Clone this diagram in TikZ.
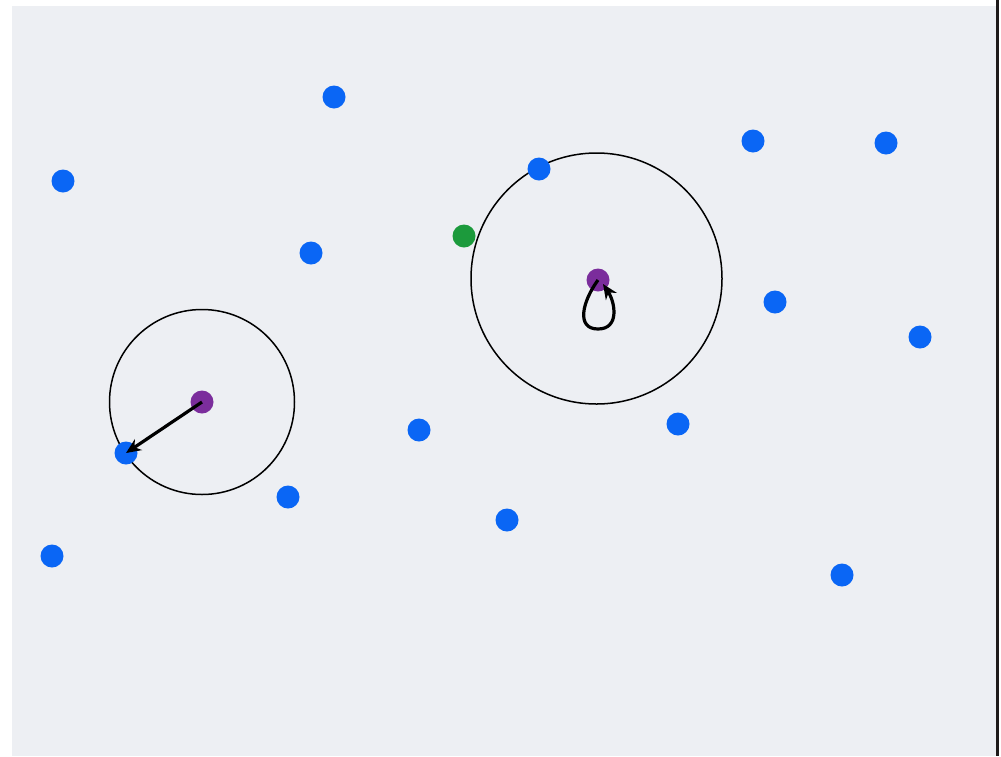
\documentclass[tikz,border=0pt]{standalone}
\usetikzlibrary{arrows.meta}
\definecolor{bg}{HTML}{EDEFF3}
\definecolor{dotblue}{HTML}{0A66F5}
\definecolor{dotpurple}{HTML}{7B2D9C}
\definecolor{dotgreen}{HTML}{1C9A3C}
\definecolor{edge}{HTML}{1E1A1A}
\tikzset{
  dot/.style={circle,inner sep=0pt,minimum size=23pt,draw=none},
  bdot/.style={dot,fill=dotblue},
  pdot/.style={dot,fill=dotpurple},
  gdot/.style={dot,fill=dotgreen},
  ring/.style={draw=black,line width=1.5pt},
  link/.style={draw=black,line width=3.2pt,-{Stealth[length=15pt,width=13pt]}}
}
\begin{document}
\begin{tikzpicture}[x=1pt,y=-1pt]
\useasboundingbox (0,0) rectangle (1001,756);
\fill[white] (0,0) rectangle (1001,756);
\fill[bg] (12,6) rectangle (996,756);
\fill[edge] (996,0) rectangle (999,756);
% circles
\draw[ring] (202,402) circle[radius=92.5];
\draw[ring] (596.5,278.5) circle[radius=125.5];
% blue dots
\node[bdot] (b1) at (334,97) {};
\node[bdot] (b2) at (63,181) {};
\node[bdot] (b3) at (539,169) {};
\node[bdot] (b4) at (753,141) {};
\node[bdot] (b5) at (886,143) {};
\node[bdot] (b6) at (311,253) {};
\node[bdot] (b7) at (775,302) {};
\node[bdot] (b8) at (920,337) {};
\node[bdot] (b9) at (419,430) {};
\node[bdot] (b10) at (678,424) {};
\node[bdot] (b11) at (126,453) {};
\node[bdot] (b12) at (288,497) {};
\node[bdot] (b13) at (507,520) {};
\node[bdot] (b14) at (52,556) {};
\node[bdot] (b15) at (842,575) {};
% green
\node[gdot] (g1) at (464,236) {};
% purple
\node[pdot] (p1) at (202,402) {};
\node[pdot] (p2) at (598,280) {};
% connectors
\draw[link] (p1.center) -- (b11.center);
\coordinate (lb) at (598,329);
\coordinate (lt) at (603,284);
\draw[link] (p2.center) .. controls +(-16,22) and +(-22,0) .. (lb) .. controls +(22,0) and +(12,18) .. (lt);
\end{tikzpicture}
\end{document}
